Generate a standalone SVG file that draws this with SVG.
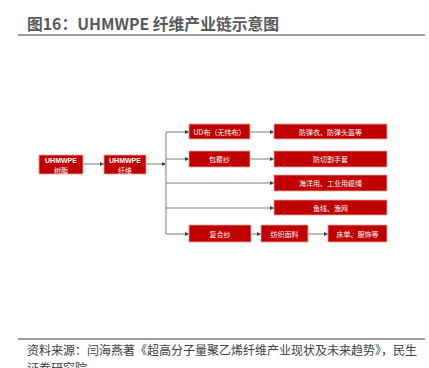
<svg xmlns="http://www.w3.org/2000/svg" width="429" height="368" viewBox="0 0 429 368">
<style>
.bg{fill:#ffffff}
.title{font-family:"Noto Sans CJK SC","Liberation Sans",sans-serif;font-size:15.8px;font-weight:bold;fill:#595959}
.foot{font-family:"Noto Sans CJK SC","Liberation Sans",sans-serif;font-size:12px;fill:#404040}
.rule{stroke:#7f7f7f;stroke-width:1.5}
.box{fill:#c00000;stroke:#f4a0a0;stroke-width:0.8}
.lbl{font-family:"Noto Sans CJK SC","Liberation Sans",sans-serif;font-size:7px;fill:#ffffff;text-anchor:middle;dominant-baseline:central}
.lblb{font-family:"Liberation Sans","Noto Sans CJK SC",sans-serif;font-size:7px;font-weight:bold;fill:#ffffff;text-anchor:middle}
.ln{stroke:#595959;stroke-width:0.8;fill:none}
.trunk{stroke:#a6a6a6;stroke-width:1.5;fill:none}
</style>
<defs>
<marker id="ah" viewBox="0 0 6 6" refX="6" refY="3" markerWidth="4" markerHeight="4" orient="auto" markerUnits="userSpaceOnUse">
<path d="M0,0 L6,3 L0,6 z" fill="#404040"/>
</marker>
</defs>
<rect class="bg" x="0" y="0" width="429" height="368"/>
<text class="title" x="27" y="30">图16：UHMWPE 纤维产业链示意图</text>
<line class="rule" x1="18" y1="35" x2="425" y2="35"/>

<g id="connectors">
<line class="ln" x1="83" y1="164" x2="104" y2="164" marker-end="url(#ah)"/>
<line class="ln" x1="146" y1="164" x2="166" y2="164" marker-end="url(#ah)"/>
<line class="trunk" x1="166" y1="132" x2="166" y2="234"/>
<line class="ln" x1="166" y1="132" x2="189" y2="132" marker-end="url(#ah)"/>
<line class="ln" x1="166" y1="159" x2="189" y2="159" marker-end="url(#ah)"/>
<line class="ln" x1="166" y1="183" x2="274" y2="183" marker-end="url(#ah)"/>
<line class="ln" x1="166" y1="208" x2="274" y2="208" marker-end="url(#ah)"/>
<line class="ln" x1="166" y1="234" x2="189" y2="234" marker-end="url(#ah)"/>
<line class="ln" x1="250" y1="132" x2="274" y2="132" marker-end="url(#ah)"/>
<line class="ln" x1="250" y1="159" x2="274" y2="159" marker-end="url(#ah)"/>
<line class="ln" x1="251" y1="234" x2="261" y2="234" marker-end="url(#ah)"/>
<line class="ln" x1="308" y1="234" x2="328" y2="234" marker-end="url(#ah)"/>
</g>

<g id="resin">
<rect class="box" x="39" y="155" width="44" height="19"/>
<text class="lblb" x="61" y="163">UHMWPE</text>
<text class="lbl" x="61" y="169.5">树脂</text>
</g>
<g id="fiber">
<rect class="box" x="104" y="155" width="42" height="19"/>
<text class="lblb" x="125" y="163">UHMWPE</text>
<text class="lbl" x="125" y="169.5">纤维</text>
</g>
<g id="ud">
<rect class="box" x="189" y="124" width="61" height="15"/>
<text class="lbl" x="219.5" y="131.5">UD布（无纬布）</text>
</g>
<g id="bulletproof">
<rect class="box" x="274" y="124" width="113" height="15"/>
<text class="lbl" x="330.5" y="131.5">防弹衣、防弹头盔等</text>
</g>
<g id="covered-yarn">
<rect class="box" x="189" y="151" width="61" height="16"/>
<text class="lbl" x="219.5" y="159">包覆纱</text>
</g>
<g id="gloves">
<rect class="box" x="274" y="151" width="113" height="16"/>
<text class="lbl" x="330.5" y="159">防切割手套</text>
</g>
<g id="marine">
<rect class="box" x="274" y="175" width="113" height="16"/>
<text class="lbl" x="330.5" y="183">海洋用、工业用缆绳</text>
</g>
<g id="fishing">
<rect class="box" x="274" y="200" width="113" height="15"/>
<text class="lbl" x="330.5" y="207.5">鱼线、渔网</text>
</g>
<g id="composite-yarn">
<rect class="box" x="189" y="225" width="62" height="17"/>
<text class="lbl" x="220" y="233.5">复合纱</text>
</g>
<g id="fabric">
<rect class="box" x="261" y="225" width="47" height="17"/>
<text class="lbl" x="284.5" y="233.5">纺织面料</text>
</g>
<g id="bedding">
<rect class="box" x="328" y="225" width="59" height="17"/>
<text class="lbl" x="357.5" y="233.5">床单、服饰等</text>
</g>

<line class="rule" x1="18" y1="339" x2="425" y2="339"/>
<text class="foot" x="27" y="355">资料来源：闫海燕著《超高分子量聚乙烯纤维产业现状及未来趋势》，民生</text>
<text class="foot" x="27" y="373">证券研究院</text>
</svg>
